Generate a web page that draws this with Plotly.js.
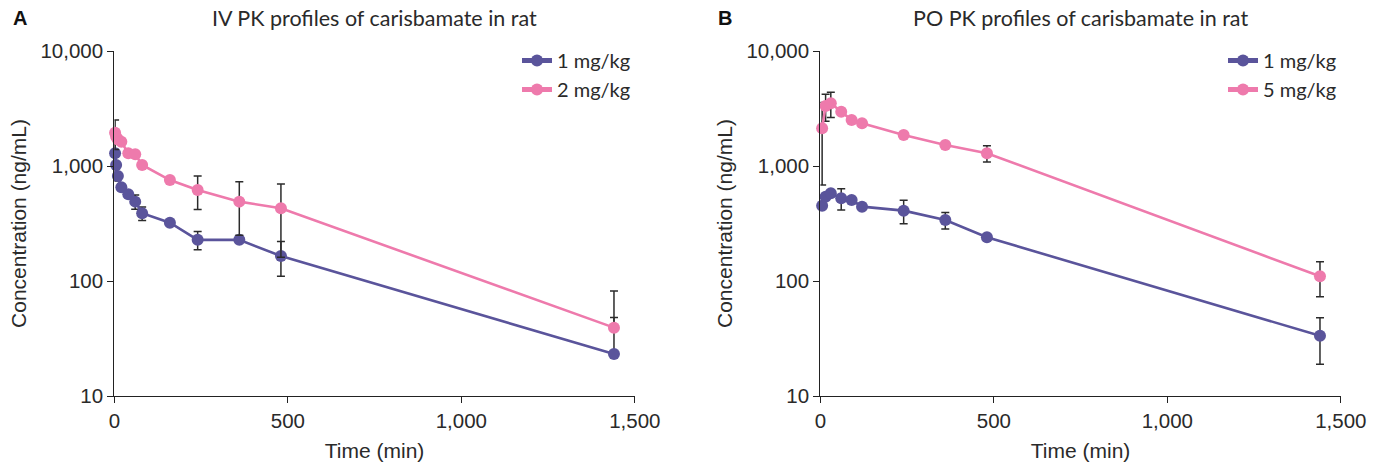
<!DOCTYPE html>
<html>
<head>
<meta charset="utf-8">
<script src="https://cdn.plot.ly/plotly-3.0.1.min.js"></script>
<style>
  html, body { margin: 0; padding: 0; background: #fff; }
  #chart { width: 1379px; height: 467px; }
</style>
</head>
<body>
<div id="chart"></div>
<script>
// ---- Panel A: IV ----
const ivTime = [2, 5, 10, 20, 40, 60, 80, 160, 240, 360, 480, 1440];
const iv1Conc = [1290, 1020, 818, 653, 567, 490, 388, 321, 228, 228, 165, 23.2];
const iv1SD   = [550, 0, 0, 0, 0, 70, 52, 0, 41, 0, 55, 25];
const iv2Conc = [1950, 1800, 1700, 1625, 1288, 1265, 1020, 755, 618, 490, 429, 39.3];
const iv2SD   = [560, 0, 0, 0, 0, 0, 0, 0, 200, 240, 268, 42.5];

// ---- Panel B: PO ----
const poTime = [5, 15, 30, 60, 90, 120, 240, 360, 480, 1440];
const po1Conc = [452, 541, 579, 524, 506, 443, 409, 339, 240, 33.4];
const po1SD   = [0, 0, 0, 110, 0, 0, 95, 56, 0, 14.5];
const po5Conc = [2128, 3325, 3508, 2964, 2512, 2350, 1862, 1524, 1291, 110];
const po5SD   = [1444, 873, 867, 0, 0, 0, 0, 0, 210, 37];

const legendIV = ['1 mg/kg', '2 mg/kg'];
const legendPO = ['1 mg/kg', '5 mg/kg'];
const titles = ['IV PK profiles of carisbamate in rat', 'PO PK profiles of carisbamate in rat'];
const panelLetters = ['A', 'B'];
const xTickVals = [0, 500, 1000, 1500];
const xTickText = ['0', '500', '1,000', '1,500'];
const yTickVals = [10, 100, 1000, 10000];
const yTickText = ['10', '100', '1,000', '10,000'];
const xTitle = 'Time (min)';
const yTitle = 'Concentration (ng/mL)';

const PURPLE = 'rgb(90,84,155)';
const PINK = 'rgb(238,122,172)';

function lowerErr(conc, sd) {
  return sd.map((s, i) => (conc[i] - s > 0 ? s : 0));
}

function mkTrace(x, y, sd, color, name, xa, ya, legend) {
  return {
    type: 'scatter', mode: 'lines+markers',
    x: x, y: y, name: name,
    xaxis: xa, yaxis: ya, legend: legend,
    cliponaxis: false,
    line: { color: color, width: 2.6 },
    marker: { color: color, size: 12 },
    error_y: {
      type: 'data', symmetric: false,
      array: sd, arrayminus: lowerErr(y, sd),
      color: '#2b2b2b', thickness: 1.5, width: 4
    }
  };
}

const data = [
  mkTrace(ivTime, iv1Conc, iv1SD, PURPLE, legendIV[0], 'x', 'y', 'legend'),
  mkTrace(ivTime, iv2Conc, iv2SD, PINK, legendIV[1], 'x', 'y', 'legend'),
  mkTrace(poTime, po1Conc, po1SD, PURPLE, legendPO[0], 'x2', 'y2', 'legend2'),
  mkTrace(poTime, po5Conc, po5SD, PINK, legendPO[1], 'x2', 'y2', 'legend2')
];

const W = 1379, H = 467;
const tickFont = { family: 'Liberation Sans, Arial, sans-serif', size: 20.5, color: '#2a2a2a' };
const titleFont = { family: 'Liberation Sans, Arial, sans-serif', size: 21, color: '#2a2a2a' };

function xAxis(domain, anchor) {
  return {
    domain: domain, anchor: anchor, range: [0, 1500],
    tickvals: xTickVals, ticktext: xTickText,
    ticks: 'outside', ticklen: 6, tickwidth: 1.3, tickcolor: '#222',
    showline: true, linecolor: '#222', linewidth: 1.3,
    showgrid: false, zeroline: false,
    tickfont: tickFont,
    title: { text: xTitle, font: titleFont, standoff: 12 }
  };
}
function yAxis(domain, anchor) {
  return {
    domain: domain, anchor: anchor, type: 'log', range: [1, 4],
    tickvals: yTickVals, ticktext: yTickText,
    ticks: 'outside', ticklen: 6, tickwidth: 1.3, tickcolor: '#222',
    showline: true, linecolor: '#222', linewidth: 1.3,
    showgrid: false, zeroline: false,
    tickfont: tickFont,
    title: { text: yTitle, font: titleFont, standoff: 8 }
  };
}

const yDom = [1 - 396 / H, 1 - 51 / H];
const legFont = { family: 'Lato, Noto Sans, sans-serif', size: 20, color: '#2a2a2a' };

const layout = {
  width: W, height: H,
  margin: { l: 0, r: 0, t: 0, b: 0 },
  paper_bgcolor: '#fff', plot_bgcolor: '#fff',
  showlegend: true,
  xaxis: xAxis([114.4 / W, 634.8 / W], 'y'),
  yaxis: yAxis(yDom, 'x'),
  xaxis2: xAxis([820.4 / W, 1340.8 / W], 'y2'),
  yaxis2: yAxis(yDom, 'x2'),
  legend: {
    x: 517 / W, y: 1 - 41 / H, xanchor: 'left', yanchor: 'top',
    font: legFont, bgcolor: 'rgba(0,0,0,0)', tracegroupgap: 0, itemsizing: 'constant'
  },
  legend2: {
    x: 1223 / W, y: 1 - 41 / H, xanchor: 'left', yanchor: 'top',
    font: legFont, bgcolor: 'rgba(0,0,0,0)', tracegroupgap: 0, itemsizing: 'constant'
  },
  annotations: [
    { text: titles[0], xref: 'paper', yref: 'paper', x: 374.6 / W, y: 1 - 18 / H,
      xanchor: 'center', yanchor: 'middle', showarrow: false,
      font: { family: 'Lato, Noto Sans, sans-serif', size: 21.5, color: '#2a2a2a' } },
    { text: titles[1], xref: 'paper', yref: 'paper', x: 1080.6 / W, y: 1 - 18 / H,
      xanchor: 'center', yanchor: 'middle', showarrow: false,
      font: { family: 'Lato, Noto Sans, sans-serif', size: 21.5, color: '#2a2a2a' } },
    { text: '<b>' + panelLetters[0] + '</b>', xref: 'paper', yref: 'paper', x: 11 / W, y: 1 - 18 / H,
      xanchor: 'left', yanchor: 'middle', showarrow: false,
      font: { family: 'Liberation Sans, Arial, sans-serif', size: 20, color: '#111' } },
    { text: '<b>' + panelLetters[1] + '</b>', xref: 'paper', yref: 'paper', x: 716 / W, y: 1 - 18 / H,
      xanchor: 'left', yanchor: 'middle', showarrow: false,
      font: { family: 'Liberation Sans, Arial, sans-serif', size: 20, color: '#111' } }
  ]
};

Plotly.newPlot('chart', data, layout, { displayModeBar: false, responsive: false });
</script>
</body>
</html>
